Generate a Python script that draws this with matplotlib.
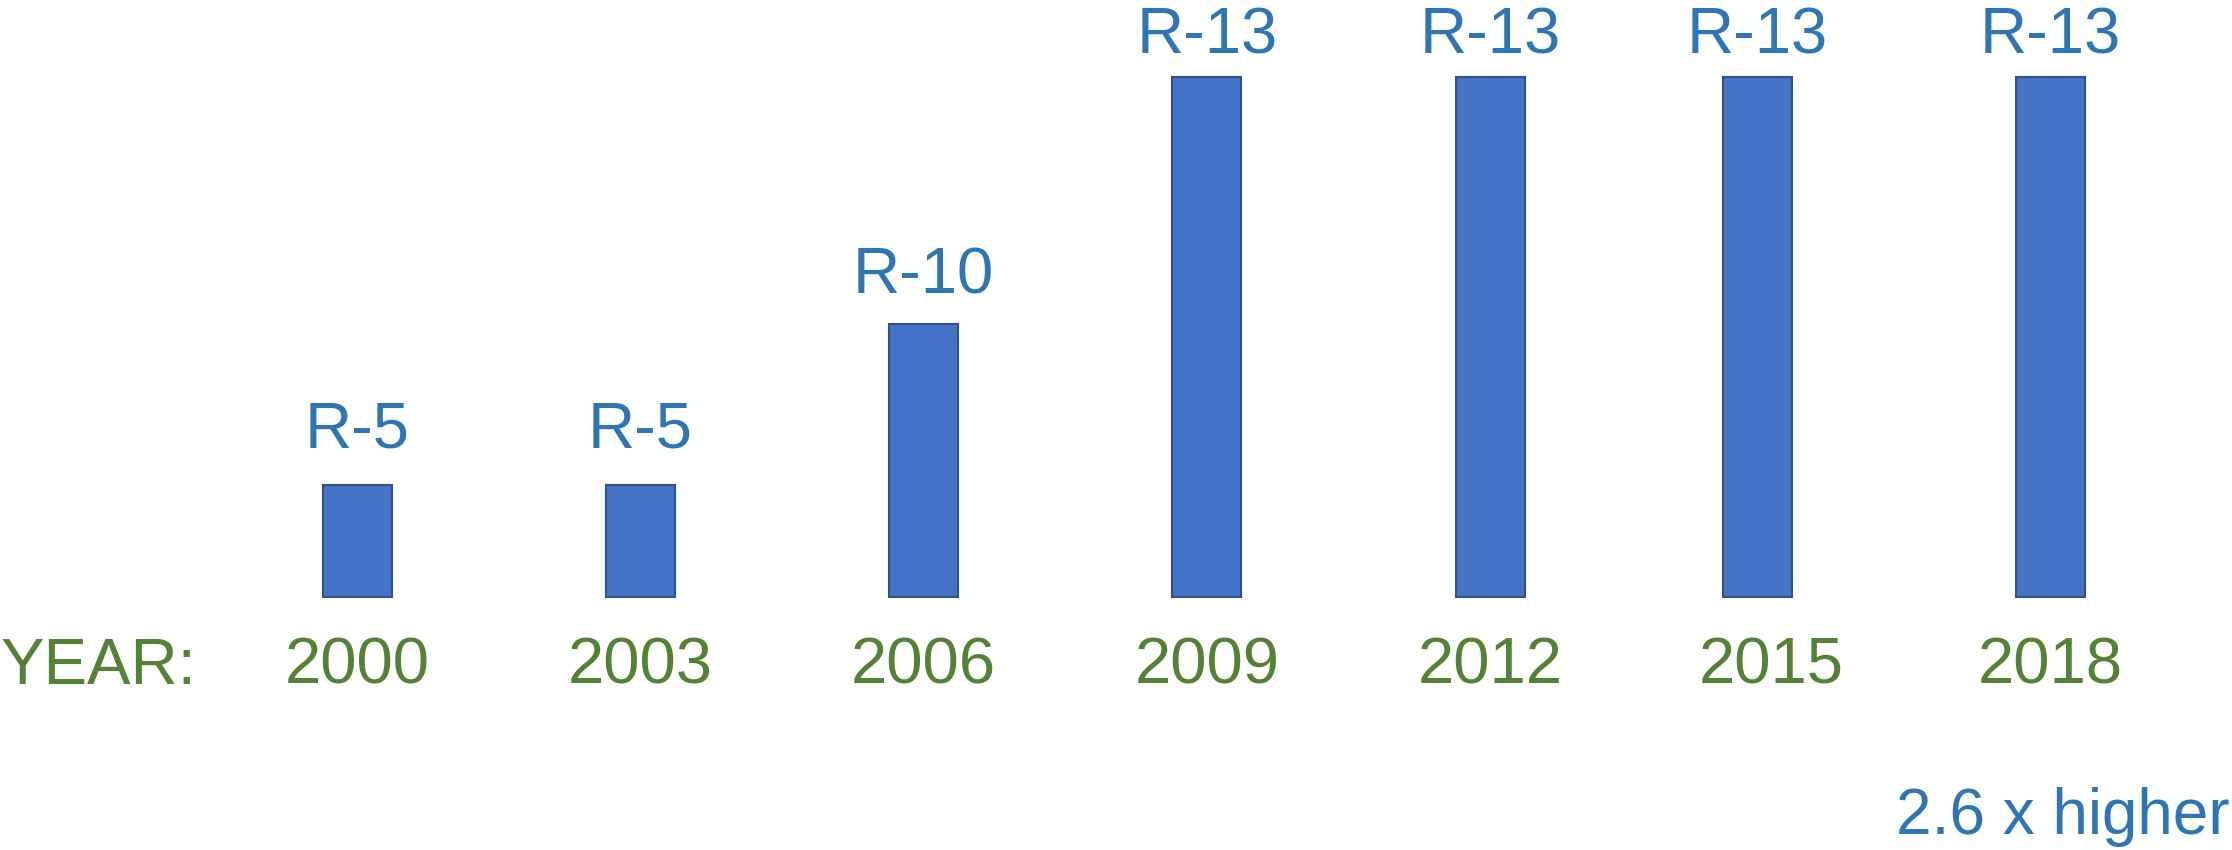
import matplotlib
matplotlib.use("Agg")
import matplotlib.pyplot as plt

# ---- data ----
years = ["2000", "2003", "2006", "2009", "2012", "2015", "2018"]
r_labels = ["R-5", "R-5", "R-10", "R-13", "R-13", "R-13", "R-13"]
heights = [112, 112, 273, 520, 520, 520, 520]   # relative bar heights
note = "2.6 x higher"
axis_word = "YEAR:"

# ---- layout ----
x_pos = [0, 1, 2, 3, 4, 4.943, 5.977]
year_dx = [0, 0, 0, 0, 0, 0.05, 0]
label_pad_px = [38, 38, 31, 24, 24, 24, 24]

plt.rcParams['font.family'] = ['Liberation Sans', 'DejaVu Sans']

W, H = 2232, 850
fig = plt.figure(figsize=(W / 100, H / 100), dpi=100)
ax = fig.add_axes([0, 0, 1, 1])
ax.set_xlim(-357 / 283.3, (W - 357) / 283.3)
ax.set_ylim(-(H - 597), 597)
ax.axis('off')

bar_color = "#4472C4"
edge_color = "#2F528F"
label_color = "#2E75B6"
year_color = "#548235"
fs = 47

ax.bar(x_pos, heights, width=69 / 283.3, color=bar_color,
       edgecolor=edge_color, linewidth=1.5, align='center')

for x, h, lab, pad in zip(x_pos, heights, r_labels, label_pad_px):
    ax.annotate(lab, xy=(x, h), xytext=(0, pad), textcoords='offset pixels',
                ha='center', va='baseline', fontsize=fs, color=label_color)

for x, dx, yr in zip(x_pos, year_dx, years):
    ax.text(x + dx, -87, yr, ha='center', va='baseline',
            fontsize=fs, color=year_color)

fig.text(1 / W, (H - 684) / H, axis_word, ha='left', va='baseline',
         fontsize=fs, color=year_color)

fig.text(2230 / W, (H - 834) / H, note, ha='right', va='baseline',
         fontsize=46, color=label_color)

fig.savefig("out.png", dpi=100, facecolor="white")
